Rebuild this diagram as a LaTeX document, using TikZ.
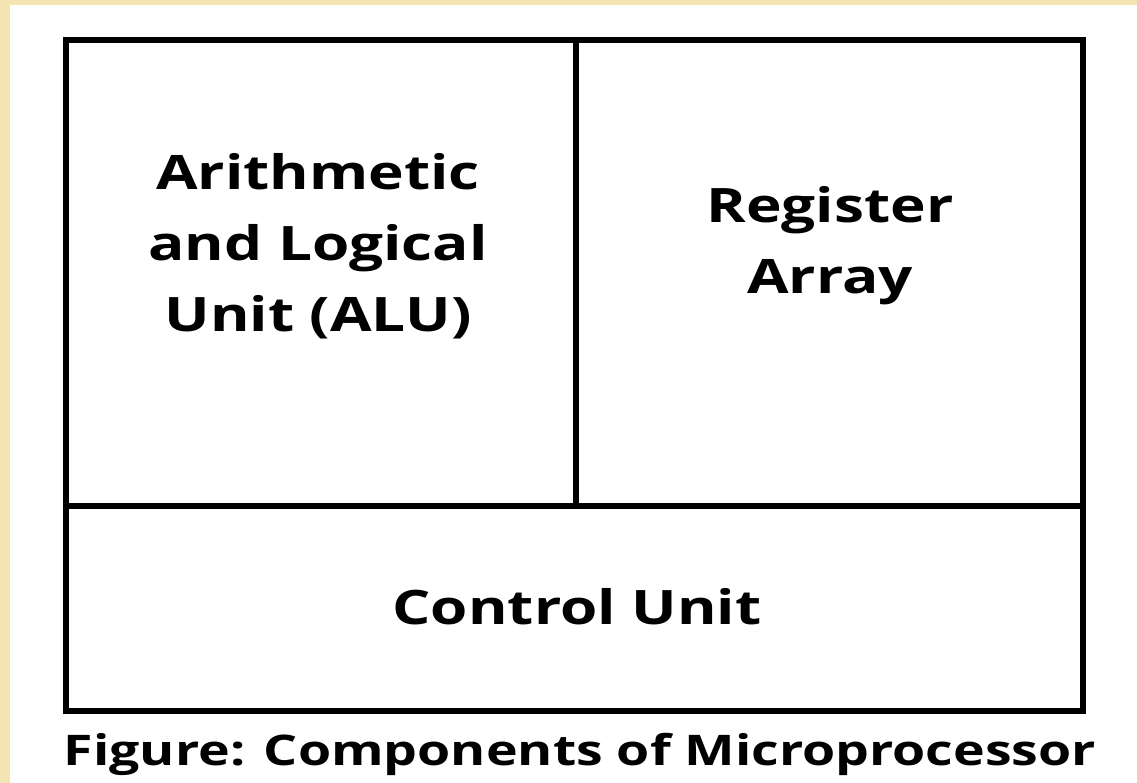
\documentclass[tikz,border=0pt]{standalone}
\usepackage{fontspec}
\setmainfont{Open Sans}
\newfontfamily\widefont[FakeStretch=1.27]{Open Sans}
\definecolor{cream}{RGB}{244,228,178}
\begin{document}
\begin{tikzpicture}[x=0.01cm,y=-0.01cm,
  part/.style={draw=black,line width=1.6pt},
  lbl/.style={font=\widefont\bfseries\fontsize{13.5}{20.2}\selectfont,align=center,inner sep=0pt},
  figcaption/.style={font=\widefont\bfseries\fontsize{12.0}{14}\selectfont,inner sep=0pt}]
\fill[cream] (0,0) rectangle (1137,783);
\fill[white] (10,5) rectangle (1137,783);
\useasboundingbox (0,0) rectangle (1137,783);
\draw[part] (66,40) rectangle (1083,711);
\draw[part] (66,506) -- (1083,506);
\draw[part] (576,40) -- (576,506);
\node[lbl] (alu) at (318,246) {Arithmetic\\and Logical\\Unit (ALU)};
\node[lbl] (reg) at (830,246) {Register\\Array};
\node[lbl] (cu) at (577,607) {Control Unit};
\node[figcaption] (caption) at (580,754) {Figure: Components of Microprocessor};
\end{tikzpicture}
\end{document}
